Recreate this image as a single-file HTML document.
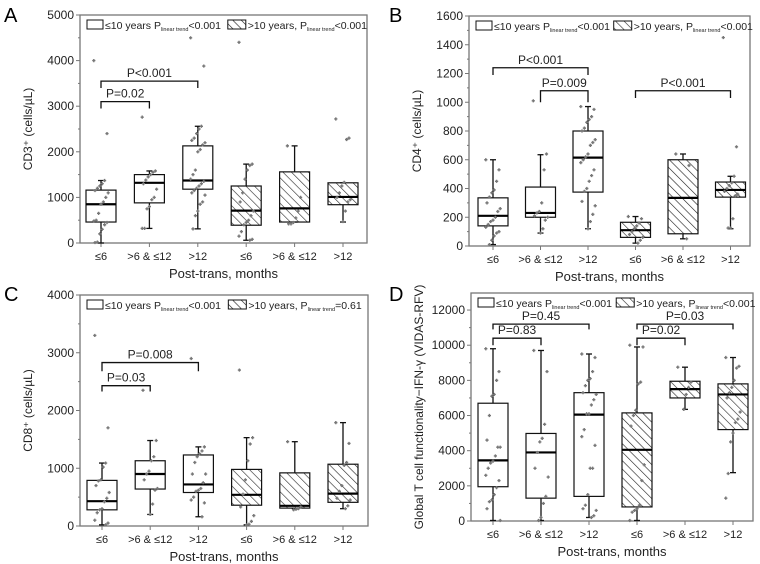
<!DOCTYPE html>
<html><head><meta charset="utf-8">
<style>
body{margin:0;background:#fff;}
svg{display:block;font-family:"Liberation Sans",Arial,sans-serif;}
</style></head>
<body>
<svg id="fig" width="760" height="564" viewBox="0 0 760 564" xmlns="http://www.w3.org/2000/svg">
<defs>
<pattern id="hatch" patternUnits="userSpaceOnUse" width="6" height="6" patternTransform="rotate(-45)">
<line x1="0" y1="0" x2="0" y2="6" stroke="#222" stroke-width="1.2"/>
</pattern>
</defs>
</svg>
<script>
const catLabels = ["≤6", ">6 & ≤12", ">12", "≤6", ">6 & ≤12", ">12"];

// Panel A: CD3+
const aQ1 = [460, 880, 1180, 390, 460, 840];
const aMed = [850, 1320, 1370, 710, 760, 1010];
const aQ3 = [1160, 1500, 2130, 1250, 1560, 1320];
const aLo = [0, 320, 310, 60, 460, 460];
const aHi = [1370, 1580, 2560, 1730, 2130, 1320];
const aPts = [
 [4000,2400,1370,1300,1250,1200,1150,1100,1000,900,850,650,500,480,450,400,300,200,20,10],
 [2760,1580,1550,1500,1450,1380,1300,1180,1000,950,800,750,320,320],
 [4500,3880,2560,2500,2400,2300,2250,2200,2150,2050,2000,1600,1500,1400,1350,1300,1250,1200,1150,1100,1050,900,850,700,600,310],
 [4400,1730,1700,1600,1400,1100,900,700,600,500,450,400,250,150,80,60],
 [2130,1000,700,550,450,420,420],
 [2720,2300,2270,1330,1250,1100,1000,950,900,700,470]
];
const aTicks = [0,1000,2000,3000,4000,5000];

// Panel B: CD4+
const bQ1 = [140, 200, 375, 60, 85, 340];
const bMed = [210, 230, 615, 110, 335, 390];
const bQ3 = [335, 410, 800, 165, 600, 445];
const bLo = [10, 90, 120, 20, 50, 120];
const bHi = [600, 635, 970, 205, 640, 485];
const bPts = [
 [600,530,450,390,370,340,300,260,240,200,180,170,150,130,100,90,70,40,10],
 [1010,640,530,300,240,230,210,200,180,120,90],
 [970,950,900,880,860,820,800,740,720,700,640,620,600,580,530,490,450,400,380,310,280,220,170,120],
 [205,190,160,140,120,100,80,60,40,20],
 [640,560,50],
 [1450,690,485,440,420,400,380,360,350,190,125,125]
];
const bTicks = [0,200,400,600,800,1000,1200,1400,1600];

// Panel C: CD8+
const cQ1 = [280, 640, 580, 360, 310, 410];
const cMed = [430, 900, 720, 540, 350, 560];
const cQ3 = [790, 1130, 1230, 980, 920, 1070];
const cLo = [20, 200, 160, 20, 300, 300];
const cHi = [1090, 1480, 1370, 1530, 1460, 1790];
const cPts = [
 [3300,1700,1090,1020,800,780,700,580,480,420,300,280,230,100,50,20],
 [2350,1480,1200,1130,950,900,800,650,620,380,200],
 [2900,1370,1300,1250,1200,1100,900,900,750,650,620,600,500,450,400,160],
 [2700,1530,1420,1130,800,550,330,180,80,30,20],
 [1460,330,300,290,280],
 [1790,1430,1100,1050,700,600,480,450,350,300]
];
const cTicks = [0,1000,2000,3000,4000];

// Panel D: IFN-gamma
const dQ1 = [1950, 1300, 1400, 800, 7000, 5200];
const dMed = [3450, 3900, 6050, 4050, 7500, 7200];
const dQ3 = [6700, 4980, 7300, 6150, 7950, 7800];
const dLo = [30, 30, 200, 30, 6350, 2750];
const dHi = [9800, 9700, 9500, 9900, 8750, 9300];
const dPts = [
 [9800,8500,8000,7200,7100,6000,4600,4200,4200,3700,3400,3300,3000,2600,2300,1900,1500,1200,1100,700,30],
 [9700,8500,5500,4700,4500,3900,3000,2500,1400,1000,200,30],
 [9500,9300,8500,8100,8000,7700,7300,7200,6900,6600,6100,6100,5200,4800,4300,3000,3000,1500,900,700,600,300,200],
 [10000,9900,7900,7800,6300,6000,5400,3200,2300,900,700,600,500,30],
 [8750,7900,7600,7200,6350],
 [9300,8800,8700,8000,7600,7300,7000,6200,5800,5600,5000,4500,2700,1300]
];
const dTicks = [0,2000,4000,6000,8000,10000,12000];

const NS = "http://www.w3.org/2000/svg";
const svg = document.getElementById("fig");
function mk(tag, attrs, parent, text){
  const e = document.createElementNS(NS, tag);
  for (const k in attrs) e.setAttribute(k, attrs[k]);
  if (text !== undefined) e.textContent = text;
  (parent || svg).appendChild(e);
  return e;
}

const panels = [
 {id:"a", letter:"A", lx:4, ly:22, L:80, R:367, T:15, B:243, ymax:5000, x0:101, step:48.4, ticks:aTicks,
  q1:aQ1, med:aMed, q3:aQ3, lo:aLo, hi:aHi, pts:aPts, ytitle:"CD3⁺ (cells/µL)", p2:"<0.001",
  brackets:[[0,1,3100,2950,"P=0.02"],[0,2,3550,3400,"P<0.001"]]},
 {id:"b", letter:"B", lx:389, ly:22, L:469, R:750, T:16, B:246, ymax:1600, x0:493, step:47.5, ticks:bTicks,
  q1:bQ1, med:bMed, q3:bQ3, lo:bLo, hi:bHi, pts:bPts, ytitle:"CD4⁺ (cells/µL)", p2:"<0.001",
  brackets:[[0,2,1240,1190,"P<0.001"],[1,2,1080,1000,"P=0.009"],[3,5,1080,1030,"P<0.001"]]},
 {id:"c", letter:"C", lx:4, ly:301, L:80, R:368, T:295, B:526, ymax:4000, x0:102, step:48.2, ticks:cTicks,
  q1:cQ1, med:cMed, q3:cQ3, lo:cLo, hi:cHi, pts:cPts, ytitle:"CD8⁺ (cells/µL)", p2:"=0.61",
  brackets:[[0,1,2430,2330,"P=0.03"],[0,2,2830,2680,"P=0.008"]]},
 {id:"d", letter:"D", lx:389, ly:301, L:471, R:753, T:293, B:521, ymax:12970, x0:493, step:48, ticks:dTicks,
  q1:dQ1, med:dMed, q3:dQ3, lo:dLo, hi:dHi, pts:dPts, ytitle:"Global T cell functionality−IFN-γ (VIDAS-RFV)", p2:"<0.001",
  brackets:[[0,1,10400,10000,"P=0.83"],[0,2,11200,10900,"P=0.45"],[3,4,10400,10000,"P=0.02"],[3,5,11200,10900,"P=0.03"]]}
];

panels.forEach(p => {
  const g = mk("g", {});
  
  
  const y = v => p.B - v / p.ymax * (p.B - p.T);
  const x = i => p.x0 + i * p.step;

  const letter = mk("text", {x:p.lx, y:p.ly, "font-size":20}, g, p.letter);
  
  

  const fr = mk("rect", {x:p.L, y:p.T, width:p.R-p.L, height:p.B-p.T, fill:"none", stroke:"#777", "stroke-width":1.3}, g);
  
  

  p.ticks.forEach((t, k) => {
    const yy = y(t);
    mk("line", {x1:p.L-4, x2:p.L, y1:yy, y2:yy, stroke:"#777"}, g);
    if (k < p.ticks.length - 1) {
      const ym = y((t + p.ticks[k+1]) / 2);
      mk("line", {x1:p.L-2, x2:p.L, y1:ym, y2:ym, stroke:"#777"}, g);
    }
    const tl = mk("text", {x:p.L-6, y:yy+4, "font-size":12, "text-anchor":"end", fill:"#222"}, g, String(t));
    
    
  });
  const yt = mk("text", {x:0, y:0, "font-size":12, "text-anchor":"middle", fill:"#222",
    transform:`translate(${p.L-48},${(p.T+p.B)/2}) rotate(-90)`}, g, p.ytitle);
  
  

  catLabels.forEach((c, i) => {
    mk("line", {x1:x(i), x2:x(i), y1:p.B, y2:p.B+4, stroke:"#777"}, g);
    const xl = mk("text", {x:x(i), y:p.B+17, "font-size":11, "text-anchor":"middle", fill:"#222"}, g, c);
    
    
  });
  const xt = mk("text", {x:(p.L+p.R)/2, y:p.B+35, "font-size":13, "text-anchor":"middle", fill:"#222"}, g, "Post-trans, months");
  
  

  const hw = 15;
  catLabels.forEach((c, i) => {
    const bg = mk("g", {}, g);
    
    
    const xc = x(i);
    mk("line", {x1:xc, x2:xc, y1:y(p.hi[i]), y2:y(p.q3[i]), stroke:"#111", "stroke-width":1.3}, bg);
    mk("line", {x1:xc, x2:xc, y1:y(p.q1[i]), y2:y(p.lo[i]), stroke:"#111", "stroke-width":1.3}, bg);
    mk("line", {x1:xc-3, x2:xc+3, y1:y(p.hi[i]), y2:y(p.hi[i]), stroke:"#111", "stroke-width":1.3}, bg);
    mk("line", {x1:xc-3, x2:xc+3, y1:y(p.lo[i]), y2:y(p.lo[i]), stroke:"#111", "stroke-width":1.3}, bg);
    mk("rect", {x:xc-hw, y:y(p.q3[i]), width:hw*2, height:y(p.q1[i])-y(p.q3[i]),
      fill: i < 3 ? "#fff" : "url(#hatch)", stroke:"#111", "stroke-width":1.2}, bg);
    mk("line", {x1:xc-hw, x2:xc+hw, y1:y(p.med[i]), y2:y(p.med[i]), stroke:"#000", "stroke-width":2.2}, bg);
    p.pts[i].forEach((v, j) => {
      const jx = xc + (((j * 37) % 13) - 6) * 1.2;
      const yy = y(v);
      const pt = mk("path", {d:`M${jx-1.6},${yy}h3.2M${jx},${yy-1.6}v3.2`, stroke:"#777", "stroke-width":1.4}, bg);
      
      
    });
  });

  p.brackets.forEach(b => {
    const bx1 = x(b[0]), bx2 = x(b[1]), yt2 = y(b[2]), yd = y(b[3]);
    const br = mk("path", {d:`M${bx1},${yd}V${yt2}H${bx2}V${yd}`, fill:"none", stroke:"#111", "stroke-width":1.3}, g);
    
    
    const lab = mk("text", {x:(bx1+bx2)/2, y:yt2-4, "font-size":12, "text-anchor":"middle", fill:"#222"}, g, b[4]);
    
    
  });

  const lg = mk("g", {}, g);
  
  
  const ly = p.T + 5;
  const e1 = mk("g", {}, lg);
  
  
  mk("rect", {x:p.L+7, y:ly, width:16, height:9, fill:"#fff", stroke:"#111"}, e1);
  const t1 = mk("text", {x:p.L+25, y:ly+9, "font-size":10.5, fill:"#222"}, e1);
  t1.innerHTML = '≤10 years P<tspan font-size="5.5" dy="2">linear trend</tspan><tspan dy="-2">&lt;0.001</tspan>';
  const lx2 = p.L + (p.R - p.L) * 0.515;
  const e2 = mk("g", {}, lg);
  
  
  mk("rect", {x:lx2, y:ly, width:18, height:9, fill:"url(#hatch)", stroke:"#111"}, e2);
  const t2 = mk("text", {x:lx2+20, y:ly+9, "font-size":10.5, fill:"#222"}, e2);
  t2.innerHTML = '&gt;10 years, P<tspan font-size="5.5" dy="2">linear trend</tspan><tspan dy="-2">' + p.p2.replace('<','&lt;') + '</tspan>';
});
</script>
</body></html>
